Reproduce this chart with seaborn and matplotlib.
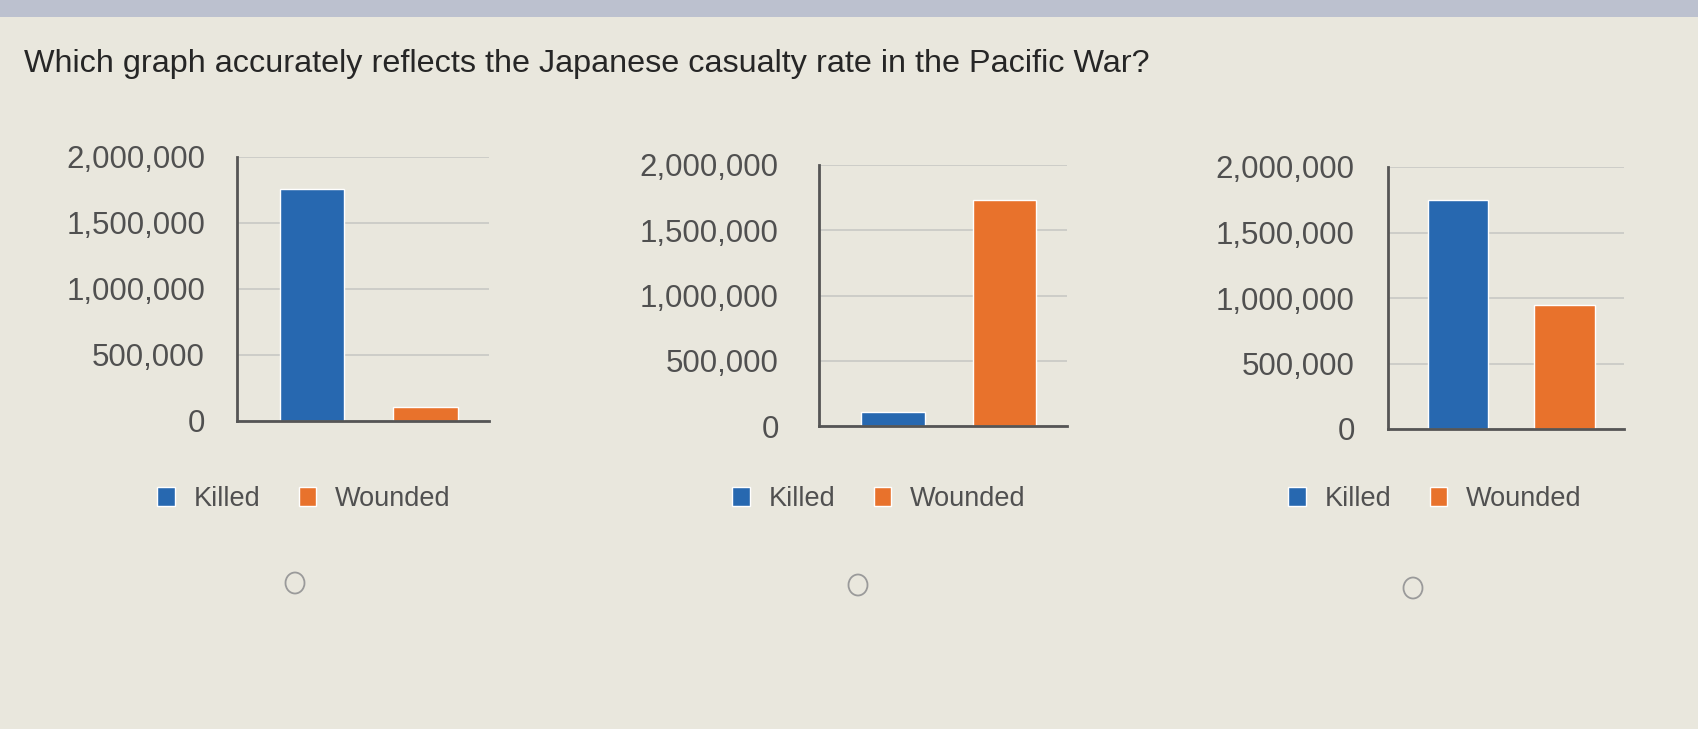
import pandas as pd
import seaborn as sns
import matplotlib.pyplot as plt
from matplotlib.patches import Ellipse, Rectangle
from matplotlib.ticker import FuncFormatter

categories = ['Killed', 'Wounded']
graph_a = [1755000, 107000]
graph_b = [108000, 1735000]
graph_c = [1745000, 950000]
y_ticks = [0, 500000, 1000000, 1500000, 2000000]
question = 'Which graph accurately reflects the Japanese casualty rate in the Pacific War?'

colors = {'Killed': '#2768b0', 'Wounded': '#e8722c'}

sns.set_theme(style='white')
plt.rcParams['font.family'] = ['Liberation Sans', 'DejaVu Sans']

W, H = 1698, 729
fig = plt.figure(figsize=(W / 100, H / 100), dpi=100)
fig.patch.set_facecolor('#e9e7dd')

# bluish strip of the screen at the very top
fig.add_artist(Rectangle((0, 1 - 17 / H), 1, 17 / H, transform=fig.transFigure,
                         color='#bcc1cf', lw=0))

fig.text(24 / W, 1 - 64 / H, question, fontsize=23.3, color='#262626',
         va='center', ha='left')

# (left, right, top, bottom, legend centre x, tick pad) in pixels / points
layouts = [
    (237, 489, 157, 421, 304, 23),
    (819, 1067, 165, 426, 879, 29),
    (1388, 1624, 167, 429, 1435, 24),
]
values = [graph_a, graph_b, graph_c]
radios = [(295, 583), (858, 585), (1413, 588)]

for (left, right, top, bottom, lx, pad), vals in zip(layouts, values):
    ax = fig.add_axes([left / W, 1 - bottom / H, (right - left) / W, (bottom - top) / H])
    df = pd.DataFrame({'cat': categories, 'value': vals})
    sns.barplot(data=df, x='cat', y='value', hue='cat', palette=colors,
                width=0.57, saturation=1, legend=True, ax=ax)
    ax.set_facecolor('none')
    ax.set_xlim(-0.66, 1.56)
    ax.set_ylim(0, 2000000)
    ax.set_yticks(y_ticks)
    ax.yaxis.set_major_formatter(FuncFormatter(lambda v, p: f'{int(v):,}'))
    ax.set_xticks([])
    ax.set_xlabel('')
    ax.set_ylabel('')
    ax.grid(axis='y', color='#c8c8c4', lw=1.2)
    ax.set_axisbelow(True)
    ax.tick_params(axis='y', length=0, pad=pad, labelsize=22.5, labelcolor='#505050')
    for s in ['top', 'right']:
        ax.spines[s].set_visible(False)
    for s in ['left', 'bottom']:
        ax.spines[s].set_color('#555555')
        ax.spines[s].set_linewidth(2)
    handles, labels = ax.get_legend_handles_labels()
    ax.legend_.remove()
    fig.legend(handles, labels, loc='center', bbox_to_anchor=(lx / W, 1 - 499 / H),
               ncol=2, frameon=False, fontsize=19.5, labelcolor='#505050',
               handlelength=0.65, handleheight=0.65, handletextpad=0.7,
               columnspacing=1.4)

for rx, ry in radios:
    fig.add_artist(Ellipse((rx / W, 1 - ry / H), 19 / W, 21 / H,
                           transform=fig.transFigure, fill=False,
                           ec='#9a9a9a', lw=1.3))

fig.savefig('out.png', dpi=100, facecolor=fig.get_facecolor())
